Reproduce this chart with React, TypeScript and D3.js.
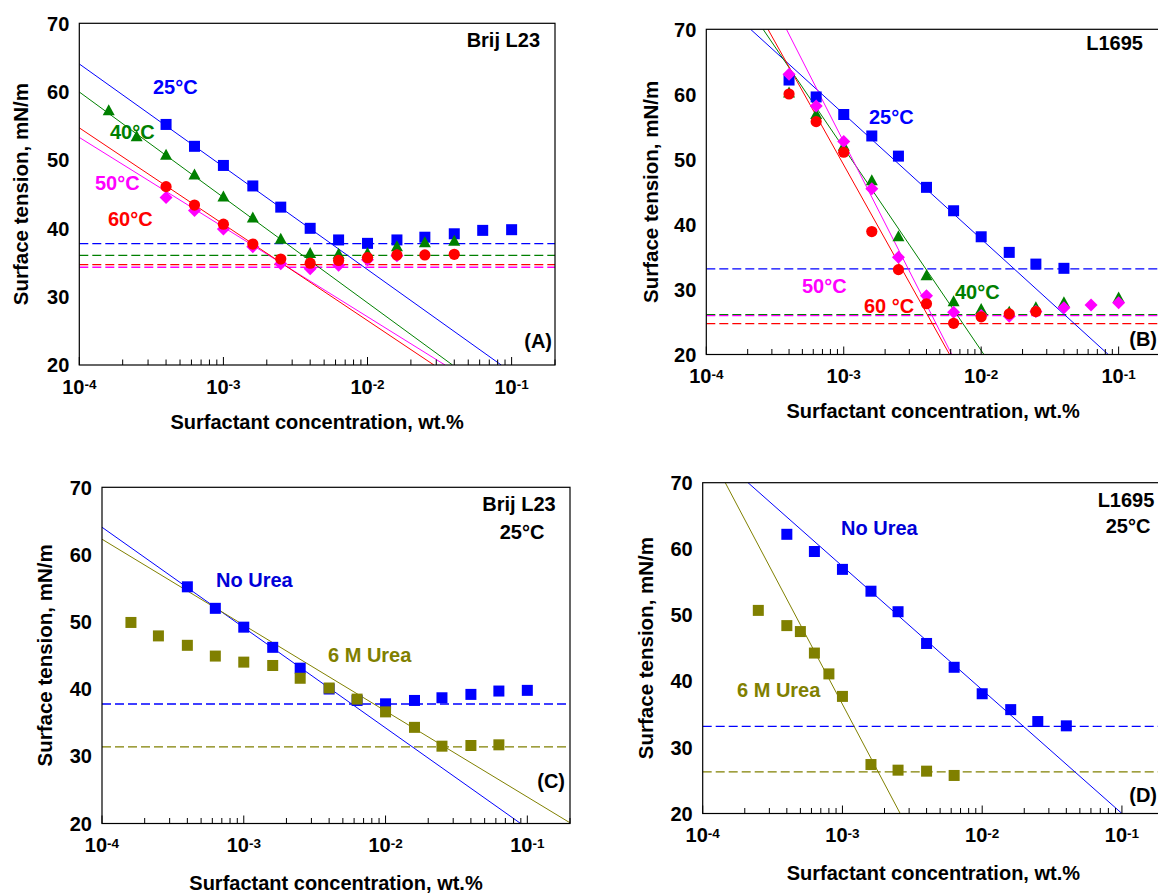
import React from "react";
import * as d3 from "d3";

const FONT = "'Liberation Sans', Arial, Helvetica, sans-serif";

// ---- Brij L23 (panels A, C) ----
const brij25Conc = [4e-4, 6.3e-4, 1e-3, 1.6e-3, 2.5e-3, 4e-3, 6.3e-3, 1e-2, 1.6e-2, 2.5e-2, 4e-2, 6.3e-2, 1e-1];
const brij25 = [55.2, 52.0, 49.2, 46.2, 43.1, 40.0, 38.3, 37.8, 38.3, 38.7, 39.2, 39.7, 39.8];
const brij40Conc = [1.6e-4, 2.5e-4, 4e-4, 6.3e-4, 1e-3, 1.6e-3, 2.5e-3, 4e-3, 6.3e-3, 1e-2, 1.6e-2, 2.5e-2, 4e-2];
const brij40 = [57.2, 53.4, 50.7, 47.8, 44.6, 41.5, 38.4, 36.3, 36.2, 36.3, 37.3, 37.9, 38.1];
const brij50Conc = [4e-4, 6.3e-4, 1e-3, 1.6e-3, 2.5e-3, 4e-3, 6.3e-3, 1e-2, 1.6e-2];
const brij50 = [44.5, 42.6, 39.9, 37.3, 34.8, 34.1, 34.6, 35.4, 36.0];
const brij60Conc = [4e-4, 6.3e-4, 1e-3, 1.6e-3, 2.5e-3, 4e-3, 6.3e-3, 1e-2, 1.6e-2, 2.5e-2, 4e-2];
const brij60 = [46.1, 43.4, 40.6, 37.7, 35.5, 34.9, 35.3, 35.7, 36.1, 36.1, 36.2];
const brijUreaConc = [1.6e-4, 2.5e-4, 4e-4, 6.3e-4, 1e-3, 1.6e-3, 2.5e-3, 4e-3, 6.3e-3, 1e-2, 1.6e-2, 2.5e-2, 4e-2, 6.3e-2];
const brijUrea = [49.9, 47.9, 46.5, 44.9, 44.0, 43.5, 41.6, 40.15, 38.5, 36.6, 34.3, 31.5, 31.6, 31.7];

// ---- L1695 (panels B, D) ----
const l25Conc = [4e-4, 6.3e-4, 1e-3, 1.6e-3, 2.5e-3, 4e-3, 6.3e-3, 1e-2, 1.6e-2, 2.5e-2, 4e-2];
const l25 = [62.2, 59.6, 56.9, 53.6, 50.5, 45.7, 42.1, 38.1, 35.7, 33.9, 33.25];
const l40Conc = [4e-4, 6.3e-4, 1e-3, 1.6e-3, 2.5e-3, 4e-3, 6.3e-3, 1e-2, 1.6e-2, 2.5e-2, 4e-2, 1e-1];
const l40 = [60.2, 56.9, 52.0, 46.7, 38.1, 32.1, 28.1, 26.9, 26.5, 27.2, 27.95, 28.7];
const l50Conc = [4e-4, 6.3e-4, 1e-3, 1.6e-3, 2.5e-3, 4e-3, 6.3e-3, 1e-2, 1.6e-2, 2.5e-2, 4e-2, 6.3e-2, 1e-1];
const l50 = [63.1, 58.2, 52.75, 45.5, 34.95, 29.05, 26.5, 26.0, 25.9, 26.6, 27.2, 27.6, 27.95];
const l60Conc = [4e-4, 6.3e-4, 1e-3, 1.6e-3, 2.5e-3, 4e-3, 6.3e-3, 1e-2, 1.6e-2, 2.5e-2];
const l60 = [60.05, 55.8, 51.1, 38.9, 33.05, 27.8, 24.8, 25.8, 26.25, 26.6];
const lUreaConc = [2.5e-4, 4e-4, 5e-4, 6.3e-4, 8e-4, 1e-3, 1.6e-3, 2.5e-3, 4e-3, 6.3e-3];
const lUrea = [50.7, 48.4, 47.5, 44.25, 41.1, 37.7, 27.4, 26.55, 26.4, 25.75];

// fitted straight lines, [conc, tension] end points
const fitA25: [number, number][] = [[1e-4, 64.05], [0.0847, 20]];
const fitA40: [number, number][] = [[1e-4, 59.95], [0.0389, 20]];
const fitA50: [number, number][] = [[1e-4, 53.3], [0.0345, 20]];
const fitA60: [number, number][] = [[1e-4, 54.7], [0.0289, 20]];
const fitB25: [number, number][] = [[2.1e-4, 70], [0.0841, 20]];
const fitB40: [number, number][] = [[2.59e-4, 70], [0.01047, 20]];
const fitB50: [number, number][] = [[3.83e-4, 70], [6.11e-3, 20]];
const fitB60: [number, number][] = [[2.81e-4, 70], [5.89e-3, 20]];
const fitCno: [number, number][] = [[1e-4, 64.06], [0.0897, 20]];
const fitCurea: [number, number][] = [[1e-4, 62.28], [0.2, 20.1]];
const fitDno: [number, number][] = [[2.11e-4, 70], [0.1, 20]];
const fitDurea: [number, number][] = [[1.45e-4, 70], [2.59e-3, 20]];

// CMC plateau levels (dashed)
const cmcA = [37.75, 36.05, 34.3, 34.7];
const cmcB = [33.15, 26.14, 25.99, 24.76];
const cmcC = [37.77, 31.4];
const cmcD = [33.18, 26.29];

const BLUE = "#0000ff";
const GREEN = "#008000";
const MAGENTA = "#ff00ff";
const RED = "#ff0000";
const OLIVE = "#808000";

const zip = (xs: number[], ys: number[]) => xs.map((c, i) => [c, ys[i]] as [number, number]);

function Marker({ shape, cx, cy, color }: any) {
  if (shape === "square") return <rect x={cx - 5.5} y={cy - 5.5} width={11} height={11} fill={color} />;
  if (shape === "circle") return <circle cx={cx} cy={cy} r={5.6} fill={color} />;
  if (shape === "triangle")
    return <path d={`M${cx},${cy - 6.5}L${cx + 6},${cy + 4.5}L${cx - 6},${cy + 4.5}Z`} fill={color} />;
  return <path d={`M${cx},${cy - 6.5}L${cx + 6.5},${cy}L${cx},${cy + 6.5}L${cx - 6.5},${cy}Z`} fill={color} />;
}

function Panel({ id, box, series, fits, cmc, labels, titleY, ylabX }: any) {
  const x = d3.scaleLog().domain([1e-4, 0.2]).range([box.left, box.right]);
  const y = d3.scaleLinear().domain([20, 70]).range([box.bottom, box.top]);
  const line = d3.line<[number, number]>().x((d) => x(d[0])).y((d) => y(d[1]));
  const ticks = x.ticks();
  const isMajor = (t: number) => Math.abs(Math.log10(t) - Math.round(Math.log10(t))) < 1e-6;
  const decades = [1e-4, 1e-3, 1e-2, 1e-1];
  return (
    <g fontFamily={FONT} fontWeight="bold">
      <defs>
        <clipPath id={id}>
          <rect x={box.left} y={box.top} width={box.right - box.left} height={box.bottom - box.top} />
        </clipPath>
      </defs>
      <g clipPath={`url(#${id})`}>
        {cmc.map((v: any, i: number) => (
          <line key={"c" + i} x1={box.left} x2={box.right} y1={y(v.level)} y2={y(v.level)}
            stroke={v.color} strokeWidth={1.3} strokeDasharray="9,4" />
        ))}
        {fits.map((f: any, i: number) => (
          <path key={"f" + i} d={line(f.pts) || ""} stroke={f.color} strokeWidth={1} fill="none" />
        ))}
        {series.map((s: any, i: number) =>
          s.pts.map((p: [number, number], j: number) => (
            <Marker key={i + "-" + j} shape={s.shape} cx={x(p[0])} cy={y(p[1])} color={s.color} />
          ))
        )}
      </g>
      <rect x={box.left} y={box.top} width={box.right - box.left} height={box.bottom - box.top}
        fill="none" stroke="#000" strokeWidth={1.2} />
      {ticks.map((t, i) => (
        <line key={"t" + i} x1={x(t)} x2={x(t)} y1={box.bottom} y2={box.bottom - (isMajor(t) ? 8 : 5.5)}
          stroke="#000" strokeWidth={1} />
      ))}
      {decades.map((t) => (
        <text key={"xl" + t} x={x(t)} y={box.bottom + 28.5} textAnchor="middle" fontSize={20}>
          10<tspan dy={-4.5} fontSize={13.5}>{String(Math.round(Math.log10(t)))}</tspan>
        </text>
      ))}
      {y.ticks(5).map((t) => (
        <text key={"yl" + t} x={box.left - 10} y={y(t)} dy="0.36em" textAnchor="end" fontSize={20}>
          {t}
        </text>
      ))}
      <text x={(box.left + box.right) / 2} y={titleY} textAnchor="middle" fontSize={20}>
        Surfactant concentration, wt.%
      </text>
      <text transform={`translate(${ylabX},${(box.top + box.bottom) / 2}) rotate(-90)`} dy="0.36em"
        textAnchor="middle" fontSize={20.5}>
        Surface tension, mN/m
      </text>
      {labels.map((l: any, i: number) => (
        <text key={"a" + i} x={l.x} y={l.y} textAnchor={l.anchor || "start"} fill={l.color || "#000"} fontSize={20}>
          {l.text}
        </text>
      ))}
    </g>
  );
}

export default function App() {
  return (
    <svg width={1158} height={893} style={{ position: "absolute", left: 0, top: 0, background: "#fff" }}>
      <rect width={1158} height={893} fill="#fff" />
      <Panel
        id="clipA"
        box={{ left: 79.3, right: 555, top: 23.3, bottom: 365 }}
        titleY={429}
        ylabX={21}
        cmc={[
          { level: cmcA[0], color: BLUE },
          { level: cmcA[1], color: GREEN },
          { level: cmcA[2], color: MAGENTA },
          { level: cmcA[3], color: RED },
        ]}
        fits={[
          { pts: fitA25, color: BLUE },
          { pts: fitA40, color: GREEN },
          { pts: fitA50, color: MAGENTA },
          { pts: fitA60, color: RED },
        ]}
        series={[
          { pts: zip(brij25Conc, brij25), shape: "square", color: BLUE },
          { pts: zip(brij40Conc, brij40), shape: "triangle", color: GREEN },
          { pts: zip(brij50Conc, brij50), shape: "diamond", color: MAGENTA },
          { pts: zip(brij60Conc, brij60), shape: "circle", color: RED },
        ]}
        labels={[
          { text: "25°C", x: 153, y: 94, color: BLUE },
          { text: "40°C", x: 110, y: 139, color: GREEN },
          { text: "50°C", x: 95, y: 190, color: MAGENTA },
          { text: "60°C", x: 108, y: 226, color: RED },
          { text: "Brij L23", x: 540, y: 47, anchor: "end" },
          { text: "(A)", x: 552, y: 348, anchor: "end" },
        ]}
      />
      <Panel
        id="clipB"
        box={{ left: 706.3, right: 1160, top: 29.3, bottom: 354.5 }}
        titleY={418}
        ylabX={651}
        cmc={[
          { level: cmcB[0], color: BLUE },
          { level: cmcB[1], color: GREEN },
          { level: cmcB[2], color: MAGENTA },
          { level: cmcB[3], color: RED },
        ]}
        fits={[
          { pts: fitB25, color: BLUE },
          { pts: fitB40, color: GREEN },
          { pts: fitB50, color: MAGENTA },
          { pts: fitB60, color: RED },
        ]}
        series={[
          { pts: zip(l25Conc, l25), shape: "square", color: BLUE },
          { pts: zip(l40Conc, l40), shape: "triangle", color: GREEN },
          { pts: zip(l50Conc, l50), shape: "diamond", color: MAGENTA },
          { pts: zip(l60Conc, l60), shape: "circle", color: RED },
        ]}
        labels={[
          { text: "25°C", x: 869, y: 124, color: BLUE },
          { text: "50°C", x: 802, y: 293, color: MAGENTA },
          { text: "40°C", x: 955, y: 299, color: GREEN },
          { text: "60 °C", x: 864, y: 313, color: RED },
          { text: "L1695", x: 1143, y: 50, anchor: "end" },
          { text: "(B)", x: 1157, y: 346, anchor: "end" },
        ]}
      />
      <Panel
        id="clipC"
        box={{ left: 102, right: 570, top: 487.3, bottom: 823.5 }}
        titleY={890}
        ylabX={45}
        cmc={[
          { level: cmcC[0], color: BLUE },
          { level: cmcC[1], color: OLIVE },
        ]}
        fits={[
          { pts: fitCno, color: BLUE },
          { pts: fitCurea, color: OLIVE },
        ]}
        series={[
          { pts: zip(brij25Conc, brij25), shape: "square", color: BLUE },
          { pts: zip(brijUreaConc, brijUrea), shape: "square", color: OLIVE },
        ]}
        labels={[
          { text: "Brij L23", x: 519, y: 511, anchor: "middle" },
          { text: "25°C", x: 522, y: 539, anchor: "middle" },
          { text: "No Urea", x: 216, y: 587, color: "#0000d8" },
          { text: "6 M Urea", x: 328, y: 662, color: OLIVE },
          { text: "(C)", x: 565, y: 788, anchor: "end" },
        ]}
      />
      <Panel
        id="clipD"
        box={{ left: 702.7, right: 1164, top: 482.7, bottom: 813.5 }}
        titleY={880}
        ylabX={646}
        cmc={[
          { level: cmcD[0], color: BLUE },
          { level: cmcD[1], color: OLIVE },
        ]}
        fits={[
          { pts: fitDno, color: BLUE },
          { pts: fitDurea, color: OLIVE },
        ]}
        series={[
          { pts: zip(l25Conc, l25), shape: "square", color: BLUE },
          { pts: zip(lUreaConc, lUrea), shape: "square", color: OLIVE },
        ]}
        labels={[
          { text: "L1695", x: 1126, y: 507, anchor: "middle" },
          { text: "25°C", x: 1128, y: 533, anchor: "middle" },
          { text: "No Urea", x: 841, y: 535, color: "#0000d8" },
          { text: "6 M Urea", x: 737, y: 697, color: OLIVE },
          { text: "(D)", x: 1157, y: 802, anchor: "end" },
        ]}
      />
    </svg>
  );
}
